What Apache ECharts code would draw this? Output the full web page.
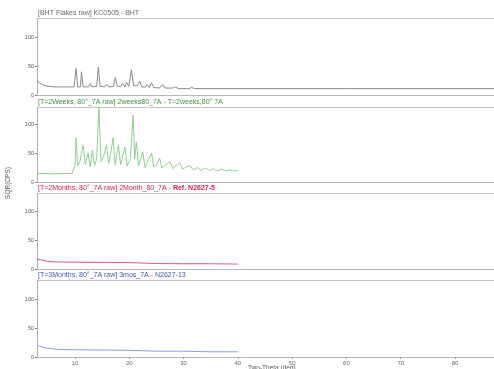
<!DOCTYPE html>
<html><head><meta charset="utf-8">
<script src="https://cdn.jsdelivr.net/npm/echarts@6/dist/echarts.min.js"></script>
<style>html,body{margin:0;padding:0;background:#fff}#c{width:494px;height:369px}</style>
</head><body><div id="c"></div>
<script>
// Titles of the four stacked patterns
const panelTitles = [
  "[BHT Flakes raw] KC0505 - BHT",
  "[T=2Weeks, 80°_7A raw] 2weeks80_7A - T=2weeks,80° 7A",
  "[T=2Months, 80°_7A raw] 2Month_80_7A - ",
  "[T=3Months, 80°_7A raw] 3mos_7A - N2627-13"
];
const panel3Bold = "Ref. N2627-5";
const yTicks = [0, 50, 100];
const xTicks = [10, 20, 30, 40, 50, 60, 70, 80];

// Panel 1: BHT flakes
const bhtX = [3.0,3.5,4.5,6,9.8,10.2,10.5,11.0,11.2,11.5,12.5,12.8,13.1,14.0,14.3,14.6,15.5,15.8,16.2,17.1,17.4,17.8,18.5,18.8,19.2,19.5,19.9,20.4,20.8,21.5,21.9,22.3,23.0,23.3,23.7,24.1,24.5,25.5,26.2,26.6,28,28.5,29,31,31.5,32,35,40,50,60,70,80,90];
const bhtY = [26,20,16,14,14,46,14,14,40,14,14,20,14,15,48,15,14,18,14,15,30,15,15,20,14,22,15,43,16,16,24,14,14,18,13,21,13,12,18,12,12,14,11,11,13,11,11,11,11,11,11,11,11];

// Panel 2: T=2 weeks
const wk2X = [3,6,9.5,10.0,10.2,10.5,10.9,11.5,11.9,12.4,12.8,13.2,13.6,14.0,14.4,14.8,15.3,15.8,16.2,16.6,17.0,17.4,18.0,18.4,18.8,19.2,19.6,20.2,20.7,21.0,21.3,21.7,22.1,22.5,22.9,23.5,24.1,24.5,25.0,25.6,26.0,26.8,27.5,28.0,28.6,29.3,29.8,30.5,31.2,31.8,32.6,33.2,34,34.8,35.5,36.2,37.0,37.8,38.5,39.2,40];
const wk2Y = [15,14,15,30,76,28,35,64,30,50,26,55,28,40,130,35,45,64,32,50,76,30,64,30,45,60,28,40,115,40,69,28,40,52,25,38,50,26,30,41,24,30,35,23,28,33,22,26,28,21,25,20,24,20,23,19,22,19,21,19,20];

// Panel 3: T=2 months
const mo2X = [3,4,5,6,8,12,16,20,25,30,35,40];
const mo2Y = [17,15,13,12.5,12,11.5,11.5,11,9.5,9,9,8.5];

// Panel 4: T=3 months
const mo3X = [3,4,5,7,10,15,20,25,30,35,40];
const mo3Y = [20,17,15,13,12.5,12,11.5,10,10,9,9];

const seriesX = [bhtX, wk2X, mo2X, mo3X];
const seriesY = [bhtY, wk2Y, mo2Y, mo3Y];
const lineColors = ["#8a8a8a", "#8fd08f", "#e2577a", "#8aa0e8"];
const textColors = ["#6a6a6a", "#3f8f3f", "#e0204c", "#3a56c0"];
const gridTops = [18, 107, 193, 280];
const gridHeights = [77, 75, 76, 77];
const pxPer50 = 29;
const xMin = 3, pxPerDeg = 380 / 70, gridLeft = 37, viewW = 494;
const xMax = xMin + (viewW - gridLeft) / pxPerDeg;

const chart = echarts.init(document.getElementById('c'));
const grids = [], xAxes = [], yAxes = [], series = [], graphics = [];
for (let i = 0; i < 4; i++) {
  grids.push({left: gridLeft, top: gridTops[i], right: 0, height: gridHeights[i], show: false});
  const last = i === 3;
  xAxes.push({type: 'value', gridIndex: i, min: xMin, max: xMax, position: 'bottom',
    axisLine: {show: true, lineStyle: {color: '#b8b8b8', width: 1}},
    axisTick: {show: last, length: 2, customValues: xTicks, lineStyle: {color: '#999'}},
    axisLabel: {show: last, customValues: xTicks, fontSize: 6, color: '#666', margin: 3, fontFamily: 'Liberation Sans'},
    splitLine: {show: false}});
  xAxes.push({type: 'value', gridIndex: i, min: xMin, max: xMax, position: 'top',
    axisLine: {show: true, lineStyle: {color: '#c4c4c4', width: 1}},
    axisTick: {show: false}, axisLabel: {show: false}, splitLine: {show: false}});
  yAxes.push({type: 'value', gridIndex: i, min: 0, max: gridHeights[i] * 50 / pxPer50,
    axisLine: {show: true, lineStyle: {color: '#b0b0b0', width: 1}},
    axisTick: {show: true, length: 2, customValues: yTicks, lineStyle: {color: '#777'}},
    axisLabel: {customValues: yTicks, fontSize: 5.5, color: '#555', margin: 3, fontFamily: 'Liberation Sans'},
    splitLine: {show: false}});
  series.push({type: 'line', xAxisIndex: i * 2, yAxisIndex: i, showSymbol: false, animation: false,
    data: seriesX[i].map((x, k) => [x, seriesY[i][k]]),
    lineStyle: {color: lineColors[i], width: 1}, clip: true});
  graphics.push({type: 'text', left: 38, top: gridTops[i] - 8.5,
    style: i === 2 ? {
      text: '{a|' + panelTitles[i] + '}{b|' + panel3Bold + '}',
      rich: {a: {fill: textColors[i], fontSize: 7, fontFamily: 'Liberation Sans'},
             b: {fill: textColors[i], fontSize: 7, fontWeight: 'bold', fontFamily: 'Liberation Sans'}}
    } : {text: panelTitles[i], fill: textColors[i], fontSize: 7, fontFamily: 'Liberation Sans'}});
}
graphics.push({type: 'text', x: 8, y: 183, rotation: Math.PI / 2,
  style: {text: 'SQR(CPS)', fill: '#555', fontSize: 6.5, fontFamily: 'Liberation Sans', align: 'center', verticalAlign: 'middle'}});
graphics.push({type: 'text', left: 248, top: 365,
  style: {text: 'Two-Theta (deg)', fill: '#555', fontSize: 6.5, fontFamily: 'Liberation Sans'}});

chart.setOption({animation: false, grid: grids, xAxis: xAxes, yAxis: yAxes, series: series, graphic: graphics});
</script></body></html>
